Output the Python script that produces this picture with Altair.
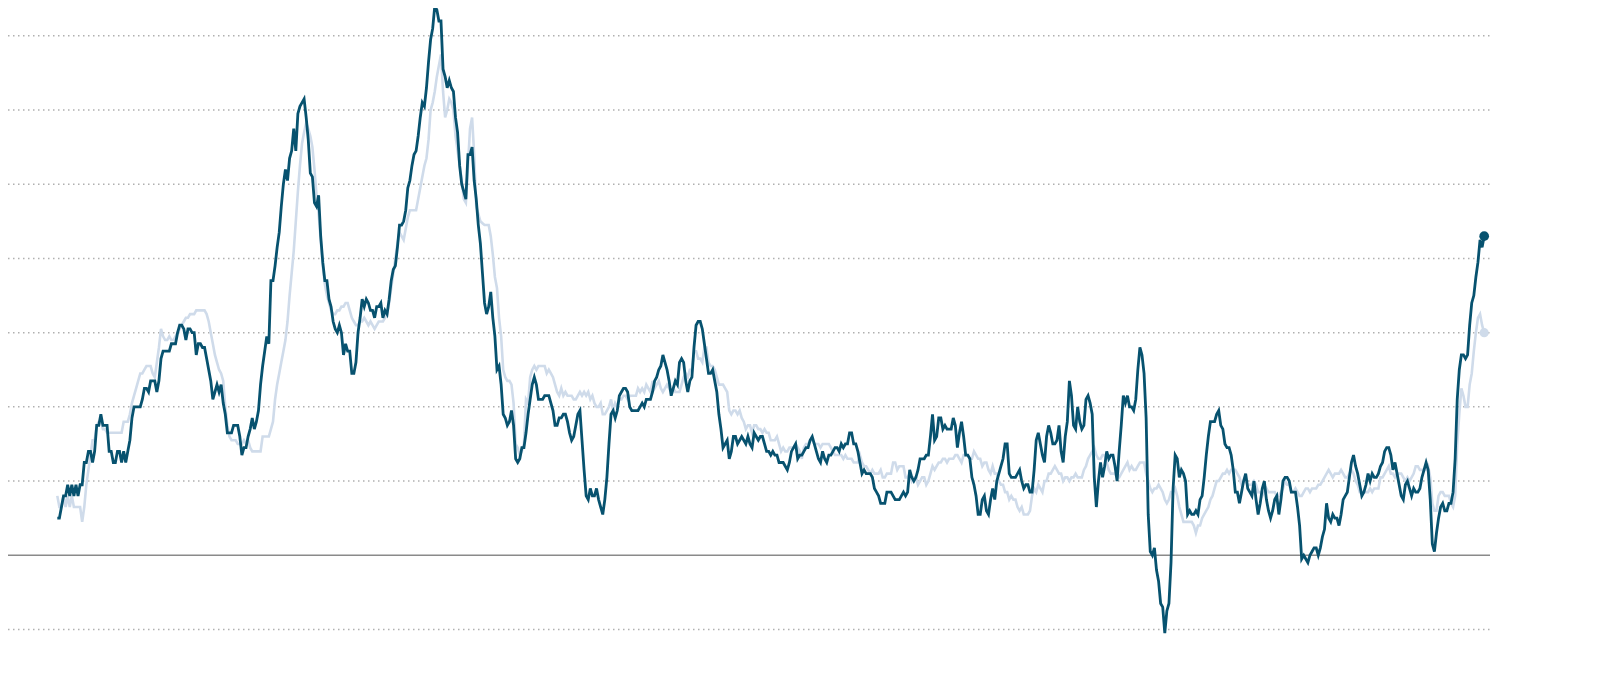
import altair as alt
import pandas as pd

# Year-over-year % change, monthly, Jan 1965 - May 2022
years = list(range(1965, 2023))

headline_cpi = [
    [1.0, 1.0, 1.3, 1.6, 1.6, 1.9, 1.6, 1.9, 1.6, 1.9, 1.6, 1.9],   # 1965
    [1.9, 2.5, 2.5, 2.8, 2.8, 2.5, 2.8, 3.5, 3.5, 3.8, 3.5, 3.5],   # 1966
    [3.5, 2.8, 2.8, 2.5, 2.5, 2.8, 2.8, 2.5, 2.8, 2.5, 2.8, 3.1],   # 1967
    [3.7, 4.0, 4.0, 4.0, 4.0, 4.2, 4.5, 4.5, 4.4, 4.7, 4.7, 4.7],   # 1968
    [4.4, 4.7, 5.3, 5.5, 5.5, 5.5, 5.5, 5.7, 5.7, 5.7, 6.0, 6.2],   # 1969
    [6.2, 6.1, 5.8, 6.1, 6.1, 6.0, 6.0, 5.4, 5.7, 5.7, 5.6, 5.6],   # 1970
    [5.3, 5.0, 4.7, 4.2, 4.4, 4.6, 4.4, 4.6, 4.1, 3.8, 3.3, 3.3],   # 1971
    [3.3, 3.5, 3.5, 3.5, 3.2, 2.7, 2.9, 2.9, 3.2, 3.4, 3.7, 3.4],   # 1972
    [3.6, 3.9, 4.6, 5.1, 5.5, 5.9, 5.7, 7.4, 7.4, 7.8, 8.3, 8.7],   # 1973
    [9.4, 10.0, 10.4, 10.1, 10.7, 10.9, 11.5, 10.9, 11.9, 12.1, 12.2, 12.3],  # 1974
    [11.8, 11.2, 10.3, 10.2, 9.5, 9.4, 9.7, 8.6, 7.9, 7.4, 7.4, 6.9],  # 1975
    [6.7, 6.3, 6.1, 6.0, 6.2, 6.0, 5.4, 5.7, 5.5, 5.5, 4.9, 4.9],   # 1976
    [5.2, 6.0, 6.4, 6.9, 6.7, 6.9, 6.8, 6.6, 6.6, 6.4, 6.7, 6.7],   # 1977
    [6.8, 6.4, 6.6, 6.5, 6.9, 7.4, 7.7, 7.8, 8.3, 8.9, 8.9, 9.0],   # 1978
    [9.3, 9.9, 10.1, 10.5, 10.8, 10.9, 11.3, 11.8, 12.2, 12.1, 12.6, 13.3],  # 1979
    [13.9, 14.2, 14.8, 14.7, 14.4, 14.4, 13.1, 12.9, 12.6, 12.8, 12.6, 12.5],  # 1980
    [11.8, 11.4, 10.5, 10.0, 9.8, 9.6, 10.8, 10.8, 11.0, 10.1, 9.6, 8.9],  # 1981
    [8.4, 7.6, 6.8, 6.5, 6.7, 7.1, 6.4, 5.9, 5.0, 5.1, 4.6, 3.8],   # 1982
    [3.7, 3.5, 3.6, 3.9, 3.5, 2.6, 2.5, 2.6, 2.9, 2.9, 3.3, 3.8],   # 1983
    [4.2, 4.6, 4.8, 4.6, 4.2, 4.2, 4.2, 4.3, 4.3, 4.3, 4.1, 3.9],   # 1984
    [3.5, 3.5, 3.7, 3.7, 3.8, 3.8, 3.6, 3.3, 3.1, 3.2, 3.5, 3.8],   # 1985
    [3.9, 3.1, 2.3, 1.6, 1.5, 1.8, 1.6, 1.6, 1.8, 1.5, 1.3, 1.1],   # 1986
    [1.5, 2.1, 3.0, 3.8, 3.9, 3.7, 3.9, 4.3, 4.4, 4.5, 4.5, 4.4],   # 1987
    [4.0, 3.9, 3.9, 3.9, 3.9, 4.0, 4.1, 4.0, 4.2, 4.2, 4.2, 4.4],   # 1988
    [4.7, 4.8, 5.0, 5.1, 5.4, 5.2, 5.0, 4.7, 4.3, 4.5, 4.7, 4.6],   # 1989
    [5.2, 5.3, 5.2, 4.7, 4.4, 4.7, 4.8, 5.6, 6.2, 6.3, 6.3, 6.1],   # 1990
    [5.7, 5.3, 4.9, 4.9, 5.0, 4.7, 4.4, 3.8, 3.4, 2.9, 3.0, 3.1],   # 1991
    [2.6, 2.8, 3.2, 3.2, 3.0, 3.1, 3.2, 3.1, 3.0, 3.2, 3.0, 2.9],   # 1992
    [3.3, 3.2, 3.1, 3.2, 3.2, 3.0, 2.8, 2.8, 2.7, 2.8, 2.7, 2.7],   # 1993
    [2.5, 2.5, 2.5, 2.4, 2.3, 2.5, 2.8, 2.9, 3.0, 2.6, 2.7, 2.7],   # 1994
    [2.8, 2.9, 2.9, 3.1, 3.2, 3.0, 2.8, 2.6, 2.5, 2.8, 2.6, 2.5],   # 1995
    [2.7, 2.7, 2.8, 2.9, 2.9, 2.8, 3.0, 2.9, 3.0, 3.0, 3.3, 3.3],   # 1996
    [3.0, 3.0, 2.8, 2.5, 2.2, 2.3, 2.2, 2.2, 2.2, 2.1, 1.8, 1.7],   # 1997
    [1.6, 1.4, 1.4, 1.4, 1.7, 1.7, 1.7, 1.6, 1.5, 1.5, 1.5, 1.6],   # 1998
    [1.7, 1.6, 1.7, 2.3, 2.1, 2.0, 2.1, 2.3, 2.6, 2.6, 2.6, 2.7],   # 1999
    [2.7, 3.2, 3.8, 3.1, 3.2, 3.7, 3.7, 3.4, 3.5, 3.4, 3.4, 3.4],   # 2000
    [3.7, 3.5, 2.9, 3.3, 3.6, 3.2, 2.7, 2.7, 2.6, 2.1, 1.9, 1.6],   # 2001
    [1.1, 1.1, 1.5, 1.6, 1.2, 1.1, 1.5, 1.8, 1.5, 2.0, 2.2, 2.4],   # 2002
    [2.6, 3.0, 3.0, 2.2, 2.1, 2.1, 2.1, 2.2, 2.3, 2.0, 1.8, 1.9],   # 2003
    [1.9, 1.7, 1.7, 2.3, 3.1, 3.3, 3.0, 2.7, 2.5, 3.2, 3.5, 3.3],   # 2004
    [3.0, 3.0, 3.1, 3.5, 2.8, 2.5, 3.2, 3.6, 4.7, 4.3, 3.5, 3.4],   # 2005
    [4.0, 3.6, 3.4, 3.5, 4.2, 4.3, 4.1, 3.8, 2.1, 1.3, 2.0, 2.5],   # 2006
    [2.1, 2.4, 2.8, 2.6, 2.7, 2.7, 2.4, 2.0, 2.8, 3.5, 4.3, 4.1],   # 2007
    [4.3, 4.0, 4.0, 3.9, 4.2, 5.0, 5.6, 5.4, 4.9, 3.7, 1.1, 0.1],   # 2008
    [0.0, 0.2, -0.4, -0.7, -1.3, -1.4, -2.1, -1.5, -1.3, -0.2, 1.8, 2.7],  # 2009
    [2.6, 2.1, 2.3, 2.2, 2.0, 1.1, 1.2, 1.1, 1.1, 1.2, 1.1, 1.5],   # 2010
    [1.6, 2.1, 2.7, 3.2, 3.6, 3.6, 3.6, 3.8, 3.9, 3.5, 3.4, 3.0],   # 2011
    [2.9, 2.9, 2.7, 2.3, 1.7, 1.7, 1.4, 1.7, 2.0, 2.2, 1.8, 1.7],   # 2012
    [1.6, 2.0, 1.5, 1.1, 1.4, 1.8, 2.0, 1.5, 1.2, 1.0, 1.2, 1.5],   # 2013
    [1.6, 1.1, 1.5, 2.0, 2.1, 2.1, 2.0, 1.7, 1.7, 1.7, 1.3, 0.8],   # 2014
    [-0.1, 0.0, -0.1, -0.2, 0.0, 0.1, 0.2, 0.2, 0.0, 0.2, 0.5, 0.7],  # 2015
    [1.4, 1.0, 0.9, 1.1, 1.0, 1.0, 0.8, 1.1, 1.5, 1.6, 1.7, 2.1],   # 2016
    [2.5, 2.7, 2.4, 2.2, 1.9, 1.6, 1.7, 1.9, 2.2, 2.0, 2.2, 2.1],   # 2017
    [2.1, 2.2, 2.4, 2.5, 2.8, 2.9, 2.9, 2.7, 2.3, 2.5, 2.2, 1.9],   # 2018
    [1.6, 1.5, 1.9, 2.0, 1.8, 1.6, 1.8, 1.7, 1.7, 1.8, 2.1, 2.3],   # 2019
    [2.5, 2.3, 1.5, 0.3, 0.1, 0.6, 1.0, 1.3, 1.4, 1.2, 1.2, 1.4],   # 2020
    [1.4, 1.7, 2.6, 4.2, 5.0, 5.4, 5.4, 5.3, 5.4, 6.2, 6.8, 7.0],   # 2021
    [7.5, 7.9, 8.5, 8.3, 8.6],                                       # 2022
]

core_cpi = [
    [1.6, 1.3, 1.3, 1.6, 1.3, 1.6, 1.3, 1.6, 1.3, 1.3, 1.3, 1.3],   # 1965
    [0.9, 1.3, 1.9, 2.3, 2.7, 3.1, 3.1, 3.5, 3.6, 3.6, 3.4, 3.4],   # 1966
    [3.3, 3.3, 3.3, 3.3, 3.3, 3.3, 3.3, 3.3, 3.6, 3.6, 3.6, 3.8],   # 1967
    [4.1, 4.3, 4.5, 4.7, 4.9, 4.9, 5.0, 5.1, 5.1, 5.1, 4.9, 4.8],   # 1968
    [5.2, 5.6, 6.1, 5.9, 5.8, 5.8, 5.9, 5.8, 5.8, 5.9, 6.0, 6.1],   # 1969
    [6.2, 6.3, 6.4, 6.4, 6.5, 6.5, 6.5, 6.6, 6.6, 6.6, 6.6, 6.6],   # 1970
    [6.5, 6.3, 6.0, 5.7, 5.4, 5.2, 5.0, 4.9, 4.7, 4.0, 3.5, 3.2],   # 1971
    [3.1, 3.1, 3.1, 3.0, 3.0, 3.0, 3.1, 3.0, 3.1, 2.9, 2.8, 2.8],   # 1972
    [2.8, 2.8, 2.8, 3.2, 3.2, 3.2, 3.2, 3.4, 3.6, 4.2, 4.6, 4.9],   # 1973
    [5.2, 5.5, 5.8, 6.3, 7.0, 7.6, 8.2, 9.0, 9.8, 10.5, 11.1, 11.4],  # 1974
    [11.65, 11.5, 11.3, 11.0, 10.4, 9.7, 9.2, 8.5, 7.8, 7.3, 7.0, 6.8],  # 1975
    [6.6, 6.5, 6.5, 6.6, 6.6, 6.7, 6.7, 6.8, 6.8, 6.6, 6.4, 6.3],   # 1976
    [6.2, 6.2, 6.3, 6.3, 6.4, 6.3, 6.2, 6.3, 6.2, 6.1, 6.2, 6.3],   # 1977
    [6.3, 6.3, 6.4, 6.5, 6.8, 7.2, 7.6, 8.0, 8.4, 8.7, 8.6, 8.5],   # 1978
    [8.8, 9.1, 9.3, 9.3, 9.3, 9.3, 9.6, 9.9, 10.2, 10.5, 10.7, 11.2],  # 1979
    [12.0, 12.2, 12.5, 12.9, 13.2, 13.5, 12.5, 11.8, 12.0, 12.3, 12.2, 12.0],  # 1980
    [11.3, 10.9, 10.5, 10.1, 9.6, 9.5, 10.5, 11.5, 11.8, 10.8, 9.4, 9.2],  # 1981
    [9.0, 8.95, 8.9, 8.9, 8.9, 8.6, 8.1, 7.5, 7.2, 6.4, 5.9, 5.0],  # 1982
    [4.8, 4.7, 4.7, 4.6, 4.1, 3.0, 2.9, 2.7, 2.8, 3.0, 4.2, 4.1],   # 1983
    [4.8, 5.0, 5.1, 5.0, 5.1, 5.1, 5.1, 5.1, 4.9, 5.0, 4.9, 4.8],   # 1984
    [4.6, 4.4, 4.3, 4.5, 4.3, 4.4, 4.3, 4.3, 4.3, 4.2, 4.2, 4.3],   # 1985
    [4.4, 4.3, 4.4, 4.3, 4.4, 4.2, 4.3, 4.1, 4.0, 4.0, 4.1, 3.8],   # 1986
    [3.8, 3.9, 4.0, 4.2, 3.9, 4.1, 4.0, 4.2, 4.2, 4.3, 4.3, 4.2],   # 1987
    [4.3, 4.3, 4.3, 4.3, 4.5, 4.4, 4.5, 4.4, 4.6, 4.5, 4.4, 4.7],   # 1988
    [4.5, 4.6, 4.7, 4.5, 4.4, 4.5, 4.6, 4.5, 4.4, 4.5, 4.4, 4.4],   # 1989
    [4.4, 4.6, 4.8, 4.9, 4.8, 5.0, 5.0, 5.5, 5.5, 5.3, 5.3, 5.2],   # 1990
    [5.6, 5.6, 5.2, 5.1, 5.1, 5.0, 4.8, 4.6, 4.6, 4.6, 4.5, 4.4],   # 1991
    [3.9, 3.8, 3.9, 3.9, 3.8, 3.9, 3.7, 3.6, 3.4, 3.5, 3.5, 3.3],   # 1992
    [3.5, 3.5, 3.4, 3.4, 3.3, 3.4, 3.3, 3.3, 3.1, 3.1, 3.1, 3.2],   # 1993
    [3.0, 2.8, 2.9, 2.8, 2.8, 2.9, 2.9, 2.9, 3.0, 2.9, 2.8, 2.6],   # 1994
    [2.9, 3.0, 3.0, 3.1, 3.1, 3.0, 3.0, 3.0, 2.9, 3.0, 3.0, 3.0],   # 1995
    [3.0, 2.9, 2.8, 2.7, 2.7, 2.7, 2.7, 2.6, 2.7, 2.6, 2.6, 2.6],   # 1996
    [2.5, 2.5, 2.5, 2.7, 2.5, 2.4, 2.4, 2.3, 2.2, 2.3, 2.2, 2.2],   # 1997
    [2.2, 2.3, 2.1, 2.1, 2.2, 2.2, 2.2, 2.5, 2.5, 2.3, 2.4, 2.4],   # 1998
    [2.4, 2.1, 2.1, 2.2, 2.0, 2.1, 2.1, 1.9, 2.0, 2.1, 2.1, 1.9],   # 1999
    [2.0, 2.2, 2.4, 2.3, 2.4, 2.5, 2.5, 2.6, 2.6, 2.5, 2.6, 2.6],   # 2000
    [2.6, 2.7, 2.7, 2.6, 2.5, 2.7, 2.7, 2.7, 2.6, 2.6, 2.8, 2.7],   # 2001
    [2.6, 2.6, 2.4, 2.5, 2.5, 2.3, 2.2, 2.4, 2.2, 2.2, 2.0, 1.9],   # 2002
    [1.9, 1.7, 1.7, 1.5, 1.6, 1.5, 1.5, 1.3, 1.2, 1.3, 1.1, 1.1],   # 2003
    [1.1, 1.2, 1.6, 1.8, 1.7, 1.9, 1.8, 1.7, 2.0, 2.0, 2.2, 2.2],   # 2004
    [2.3, 2.4, 2.3, 2.2, 2.2, 2.0, 2.1, 2.1, 2.0, 2.1, 2.1, 2.2],   # 2005
    [2.1, 2.1, 2.1, 2.3, 2.4, 2.6, 2.7, 2.8, 2.9, 2.7, 2.6, 2.6],   # 2006
    [2.7, 2.7, 2.5, 2.3, 2.2, 2.2, 2.2, 2.1, 2.1, 2.2, 2.3, 2.4],   # 2007
    [2.5, 2.3, 2.4, 2.3, 2.3, 2.4, 2.5, 2.5, 2.5, 2.2, 2.0, 1.8],   # 2008
    [1.7, 1.8, 1.8, 1.9, 1.8, 1.7, 1.5, 1.4, 1.5, 1.7, 1.7, 1.8],   # 2009
    [1.6, 1.3, 1.1, 0.9, 0.9, 0.9, 0.9, 0.9, 0.8, 0.6, 0.8, 0.8],   # 2010
    [1.0, 1.1, 1.2, 1.3, 1.5, 1.6, 1.8, 2.0, 2.0, 2.1, 2.2, 2.2],   # 2011
    [2.3, 2.2, 2.3, 2.3, 2.3, 2.2, 2.1, 1.9, 2.0, 2.0, 1.9, 1.9],   # 2012
    [1.9, 2.0, 1.9, 1.7, 1.7, 1.6, 1.7, 1.8, 1.7, 1.7, 1.7, 1.7],   # 2013
    [1.6, 1.6, 1.7, 1.8, 2.0, 1.9, 1.9, 1.7, 1.7, 1.8, 1.7, 1.6],   # 2014
    [1.6, 1.7, 1.8, 1.8, 1.7, 1.8, 1.8, 1.8, 1.9, 1.9, 2.0, 2.1],   # 2015
    [2.2, 2.3, 2.2, 2.1, 2.2, 2.2, 2.2, 2.3, 2.2, 2.1, 2.1, 2.2],   # 2016
    [2.3, 2.2, 2.0, 1.9, 1.7, 1.7, 1.7, 1.7, 1.7, 1.8, 1.7, 1.8],   # 2017
    [1.8, 1.8, 2.1, 2.1, 2.2, 2.3, 2.4, 2.2, 2.2, 2.1, 2.2, 2.2],   # 2018
    [2.2, 2.1, 2.0, 2.1, 2.0, 2.1, 2.2, 2.4, 2.4, 2.3, 2.3, 2.3],   # 2019
    [2.3, 2.4, 2.1, 1.4, 1.2, 1.2, 1.6, 1.7, 1.7, 1.6, 1.6, 1.6],   # 2020
    [1.4, 1.3, 1.6, 3.0, 3.8, 4.5, 4.3, 4.0, 4.0, 4.6, 4.9, 5.5],   # 2021
    [6.0, 6.4, 6.5, 6.2, 6.0],                                       # 2022
]

grid_values = [-2, 2, 4, 6, 8, 10, 12, 14]
zero_value = [0]


def to_frame(table):
    rows = []
    for yr, row in zip(years, table):
        for i, v in enumerate(row):
            rows.append({"t": yr + i / 12.0, "v": v})
    return pd.DataFrame(rows)


df_head = to_frame(headline_cpi)
df_core = to_frame(core_cpi)
df_head_last = df_head.tail(1)
df_core_last = df_core.tail(1)

W, H = 1482, 640
xscale = alt.Scale(domain=[1963.019, 2022.567], nice=False, zero=False)
yscale = alt.Scale(domain=[-2.5, 14.75], nice=False, zero=False)

DARK = "#07526f"
LIGHT = "#cfdbea"

grid = alt.Chart(pd.DataFrame({"g": grid_values})).mark_rule(
    color="#b0b0b0", strokeWidth=1.5, strokeDash=[1.5, 3.5]
).encode(y=alt.Y("g:Q", scale=yscale, axis=None), x=alt.value(0), x2=alt.value(W))

zero = alt.Chart(pd.DataFrame({"g": zero_value})).mark_rule(
    color="#8a8a8a", strokeWidth=1.3
).encode(y=alt.Y("g:Q", scale=yscale, axis=None), x=alt.value(0), x2=alt.value(W))

enc = dict(
    x=alt.X("t:Q", scale=xscale, axis=None),
    y=alt.Y("v:Q", scale=yscale, axis=None),
)

core_line = alt.Chart(df_core).mark_line(color=LIGHT, strokeWidth=2.6).encode(**enc)
core_dot = alt.Chart(df_core_last).mark_circle(color=LIGHT, size=85, opacity=1).encode(**enc)
head_line = alt.Chart(df_head).mark_line(color=DARK, strokeWidth=2.8).encode(**enc)
head_dot = alt.Chart(df_head_last).mark_circle(color=DARK, size=95, opacity=1).encode(**enc)

chart = alt.layer(grid, zero, core_line, core_dot, head_line, head_dot).properties(
    width=W, height=H, padding=0,
    autosize=alt.AutoSizeParams(type="none"),
).configure_view(stroke=None)

chart.save("out.html", embed_options={"renderer": "svg", "actions": False})
